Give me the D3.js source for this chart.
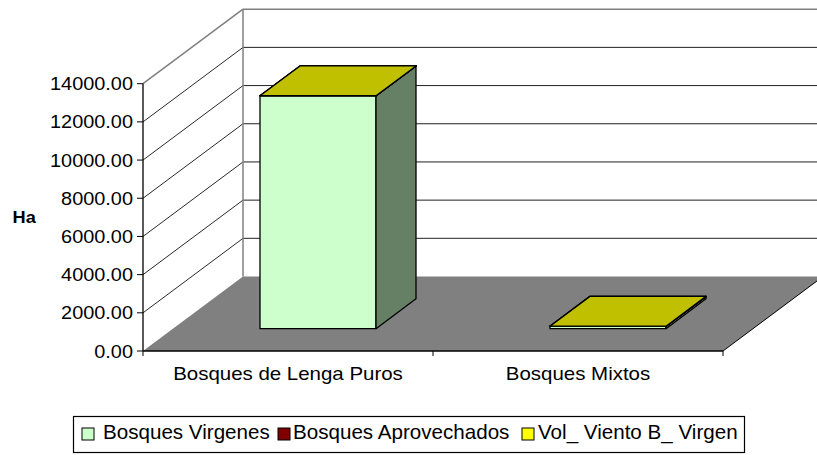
<!DOCTYPE html>
<html>
<head>
<meta charset="utf-8">
<script src="https://cdn.jsdelivr.net/npm/d3@7"></script>
<style>
  html, body { margin: 0; padding: 0; background: #fff; }
  svg { display: block; }
  text { font-family: "Liberation Sans", Arial, sans-serif; fill: #000; }
</style>
</head>
<body>
<svg id="chart" width="817" height="455"></svg>
<script>
// Categories and stacked series values (hectares)
const categories = ["Bosques de Lenga Puros", "Bosques Mixtos"];
const seriesNames = ["Bosques Virgenes", "Bosques Aprovechados", "Vol_ Viento B_ Virgen"];
const bosquesVirgenes = [12200, 130];
const bosquesAprovechados = [0, 0];
const volVientoVirgen = [0, 0];
const yTicks = [0, 2000, 4000, 6000, 8000, 10000, 12000, 14000];
const yTitle = "Ha";

const seriesValues = [bosquesVirgenes, bosquesAprovechados, volVientoVirgen];
const frontColors = ["#CCFFCC", "#800000", "#FFFF00"];
const sideColors = ["#668066", "#400000", "#808000"];
const topColors = ["#99BF99", "#600000", "#C0C000"];

const svg = d3.select("#chart");

// Front plane of the plot box
const x0 = 143, x1 = 723;
const y = d3.scaleLinear().domain([0, 14000]).range([351, 83.7]);
const x = d3.scaleBand().domain(categories).range([x0, x1]).padding(0);
// Depth offset of the box (full depth)
const DX = 100, DY = -74.5;
const P = (px, v, z) => [px + z * DX, y(v) + z * DY];
const pts = a => a.map(p => p.join(",")).join(" ");

// Back wall gridlines
const g = svg.append("g");
yTicks.forEach(t => {
  const [bx, by] = P(x0, t, 1);
  if (t === 0) return;
  g.append("line")
    .attr("x1", bx).attr("x2", x1 + DX).attr("y1", by).attr("y2", by)
    .attr("stroke", t === 14000 ? "#808080" : "#222").attr("stroke-width", t === 14000 ? 1.5 : 1);
});
// Side wall diagonal gridlines
yTicks.forEach(t => {
  if (t === 0) return;
  const a = P(x0, t, 0), b = P(x0, t, 1);
  g.append("line")
    .attr("x1", a[0]).attr("y1", a[1]).attr("x2", b[0]).attr("y2", b[1])
    .attr("stroke", t === 14000 ? "#808080" : "#111").attr("stroke-width", t === 14000 ? 1.5 : 0.9);
});
// Back-left vertical edge
{
  const a = P(x0, 0, 1), b = P(x0, 14000, 1);
  g.append("line").attr("x1", a[0]).attr("y1", a[1]).attr("x2", b[0]).attr("y2", b[1])
    .attr("stroke", "#808080").attr("stroke-width", 1.5);
}
// Floor
g.append("polygon")
  .attr("points", pts([P(x0, 0, 0), P(x1, 0, 0), P(x1, 0, 1), P(x0, 0, 1)]))
  .attr("fill", "#808080");
{
  const a = P(x1, 0, 0), b = P(x1, 0, 1);
  g.append("line").attr("x1", a[0]).attr("y1", a[1]).attr("x2", b[0]).attr("y2", b[1])
    .attr("stroke", "#000").attr("stroke-width", 1);
}

// Stacked 3D columns
const barFrac = 0.4, z0 = 0.3, z1 = 0.7;
const bars = svg.append("g");
categories.forEach((c, i) => {
  const cx = x(c) + x.bandwidth() / 2;
  const left = cx - x.bandwidth() * barFrac / 2;
  const right = cx + x.bandwidth() * barFrac / 2;
  let base = 0;
  seriesValues.forEach((vals, s) => {
    const top = base + vals[i];
    const front = [P(left, base, z0), P(right, base, z0), P(right, top, z0), P(left, top, z0)];
    const side = [P(right, base, z0), P(right, base, z1), P(right, top, z1), P(right, top, z0)];
    const lid = [P(left, top, z0), P(right, top, z0), P(right, top, z1), P(left, top, z1)];
    [[front, frontColors[s]], [side, sideColors[s]], [lid, topColors[s]]].forEach(([poly, col]) => {
      bars.append("polygon").attr("points", pts(poly))
        .attr("fill", col).attr("stroke", "#000").attr("stroke-width", 1.3)
        .attr("stroke-linejoin", "round");
    });
    base = top;
  });
});

// Axes
const ax = svg.append("g");
ax.append("line").attr("x1", x0).attr("x2", x0).attr("y1", y(0)).attr("y2", y(14000))
  .attr("stroke", "#000").attr("stroke-width", 1.3);
ax.append("line").attr("x1", x0).attr("x2", x1).attr("y1", y(0)).attr("y2", y(0))
  .attr("stroke", "#000").attr("stroke-width", 1.3);
yTicks.forEach(t => {
  ax.append("line").attr("x1", x0 - 6).attr("x2", x0).attr("y1", y(t)).attr("y2", y(t))
    .attr("stroke", "#000").attr("stroke-width", 1);
  ax.append("text")
    .attr("transform", `translate(133,${y(t)}) scale(1.07,1)`)
    .attr("text-anchor", "end").attr("dy", "0.35em")
    .style("font-size", "18.6px")
    .text(d3.format(".2f")(t));
});
const catEdges = [x0].concat(categories.map(c => x(c) + x.bandwidth()));
catEdges.forEach(e => {
  ax.append("line").attr("x1", e).attr("x2", e).attr("y1", y(0)).attr("y2", y(0) + 5)
    .attr("stroke", "#000").attr("stroke-width", 1);
});
categories.forEach(c => {
  ax.append("text")
    .attr("transform", `translate(${x(c) + x.bandwidth() / 2},379.5) scale(1.1,1)`)
    .attr("text-anchor", "middle")
    .style("font-size", "18.6px")
    .text(c);
});
ax.append("text")
  .attr("transform", "translate(12.5,223.3) scale(1.07,1)")
  .style("font-size", "17px").style("font-weight", "bold")
  .text(yTitle);

// Legend
const leg = svg.append("g");
leg.append("rect")
  .attr("x", 73.5).attr("y", 416.5).attr("height", 36).attr("width", 671)
  .attr("fill", "#fff").attr("stroke", "#000").attr("stroke-width", 1.2);
const legendFill = ["#CCFFCC", "#800000", "#FFFF00"];
const swatchX = [82, 278, 522];
const labelX = [103, 293, 538];
seriesNames.forEach((n, i) => {
  leg.append("rect").attr("x", swatchX[i]).attr("y", 428).attr("width", 12).attr("height", 12)
    .attr("fill", legendFill[i]).attr("stroke", "#000").attr("stroke-width", 1);
  leg.append("text").attr("x", labelX[i]).attr("y", 439.3)
    .style("font-size", "20.6px").text(n);
});
</script>
</body>
</html>
